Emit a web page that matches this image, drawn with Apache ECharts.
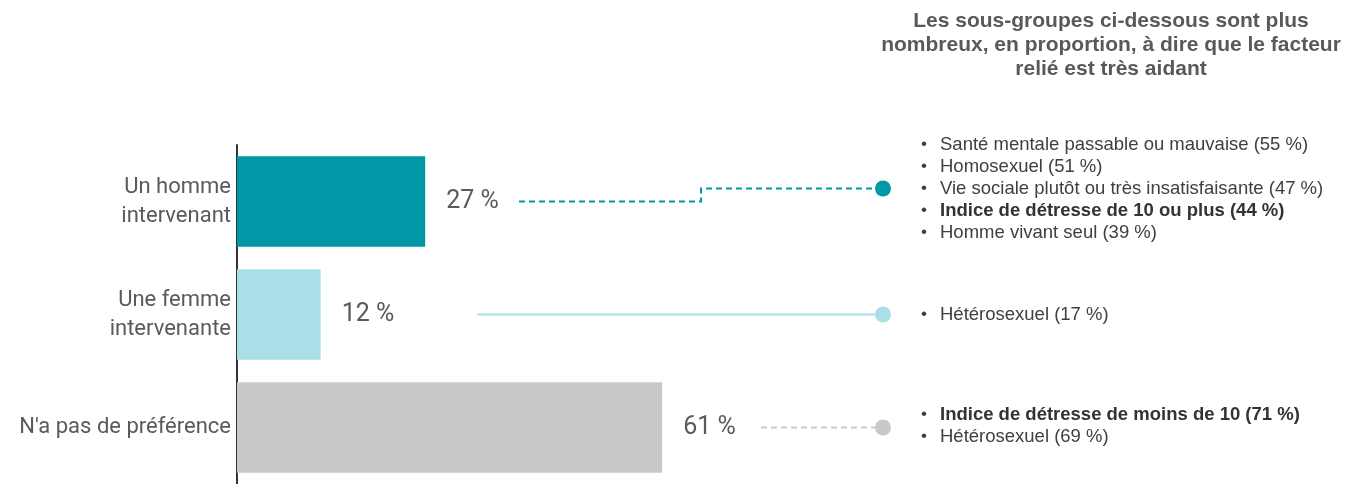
<!DOCTYPE html>
<html><head><meta charset="utf-8">
<script src="https://cdn.jsdelivr.net/npm/echarts@6/dist/echarts.min.js"></script>
<style>html,body{margin:0;padding:0;background:#fff}#c{width:1358px;height:484px}</style>
</head><body><div id="c"></div>
<script>
// ---- data ----
const categories = ['Un homme\nintervenant', 'Une femme\nintervenante', "N'a pas de préférence"];
const values = [27, 12, 61];
const barColors = ['#0097A7', '#AADFE8', '#C9C9C9'];
const titleText = 'Les sous-groupes ci-dessous sont plus\nnombreux, en proportion, à dire que le facteur\nrelié est très aidant';
const groupHomme = [['Santé mentale passable ou mauvaise (55 %)', 0], ['Homosexuel (51 %)', 0], ['Vie sociale plutôt ou très insatisfaisante (47 %)', 0], ['Indice de détresse de 10 ou plus (44 %)', 1], ['Homme vivant seul (39 %)', 0]];
const groupFemme = [['Hétérosexuel (17 %)', 0]];
const groupAucune = [['Indice de détresse de moins de 10 (71 %)', 1], ['Hétérosexuel (69 %)', 0]];
const subgroups = [groupHomme, groupFemme, groupAucune];

// ---- layout (not data) ----
const conn = [
  { x0: 519, xs: 701, dy: -13, dash: true },
  { x0: 477, xs: null, dy: 0, dash: false },
  { x0: 761, xs: null, dy: 0, dash: true }
];
const DOT_X = 883;

const chart = echarts.init(document.getElementById('c'));

const option = {
  animation: false,
  backgroundColor: '#fff',
  grid: { left: 237, right: 424, top: 145, bottom: 0 },
  xAxis: { type: 'value', min: 0, max: 100, show: false },
  yAxis: {
    type: 'category', data: categories, inverse: true,
    axisLine: { show: true, lineStyle: { color: '#333', width: 2 } },
    axisTick: { show: false },
    axisLabel: { color: '#5a5a5a', fontSize: 22, fontFamily: 'Roboto, sans-serif', lineHeight: 29, margin: 6, align: 'right', padding: [3, 0, 0, 0] }
  },
  series: [
    {
      type: 'bar', barCategoryGap: '20%',
      data: values.map((v, i) => ({ value: v, itemStyle: { color: barColors[i] } })),
      label: { show: true, position: 'right', distance: 21, formatter: p => p.value + ' %', color: '#5a5a5a', fontSize: 25, fontFamily: 'Roboto, sans-serif' },
      z: 2
    },
    {
      type: 'custom',
      data: values.map((v, i) => [v, i]),
      renderItem: function (params, api) {
        const i = api.value(1);
        const yc = api.coord([0, i])[1];
        const c = conn[i];
        const col = barColors[i];
        const yEnd = yc + c.dy;
        let pts;
        if (c.xs) pts = [[c.x0, yc], [c.xs, yc], [c.xs, yEnd], [DOT_X, yEnd]];
        else pts = [[c.x0, yc], [DOT_X, yEnd]];
        return {
          type: 'group',
          children: [
            { type: 'polyline', shape: { points: pts }, style: { stroke: col, lineWidth: 2, fill: null, lineDash: c.dash ? [6, 4] : null } },
            { type: 'circle', shape: { cx: DOT_X, cy: yEnd, r: 8 }, style: { fill: col } }
          ]
        };
      },
      z: 3
    }
  ]
};

chart.setOption(option);

const graphics = [{
  type: 'text', x: 1111, y: 9,
  style: { text: titleText, textAlign: 'center', fill: '#595959', font: 'bold 21px Liberation Sans, Arial, sans-serif', lineHeight: 24 }
}];
subgroups.forEach((g, i) => {
  const yc = chart.convertToPixel({ gridIndex: 0 }, [0, i])[1] + conn[i].dy;
  const lh = 22;
  const text = g.map(l => '{bul|•}{' + (l[1] ? 'b' : 'n') + '|' + l[0] + '}').join('\n');
  graphics.push({
    type: 'text', x: 921, y: yc - (g.length * lh) / 2 + (i === 2 ? -2 : 0),
    style: {
      text: text, fill: '#404040', font: '18.5px Liberation Sans, Arial, sans-serif', lineHeight: lh,
      rich: {
        bul: { width: 19, fontSize: 17, fill: '#404040', lineHeight: lh, fontFamily: 'Liberation Sans' },
        n: { fontSize: 18.5, fill: '#404040', lineHeight: lh, fontFamily: 'Liberation Sans' },
        b: { fontSize: 18.5, fontWeight: 'bold', fill: '#333', lineHeight: lh, fontFamily: 'Liberation Sans' }
      }
    }
  });
});
chart.setOption({ graphic: graphics });
</script></body></html>
